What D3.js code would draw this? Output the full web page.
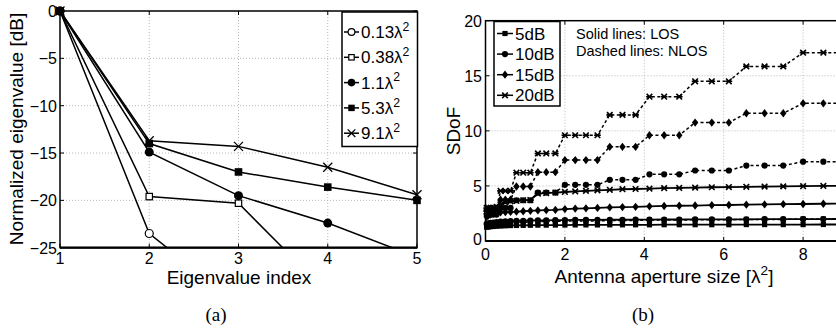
<!DOCTYPE html>
<html><head><meta charset="utf-8">
<script src="https://cdn.jsdelivr.net/npm/d3@7"></script>
<style>
body{margin:0;background:#fff}
svg{display:block}
text{font-family:"Liberation Sans",Arial,Helvetica,sans-serif;fill:#000}
</style>
</head><body>
<svg id="c" width="836" height="332"></svg>
<script>
// ---------- Panel (a) data ----------
const eigIndex = [1, 2, 3, 4, 5];
const eigTicksY = [0, -5, -10, -15, -20, -25];
const eigLegend = ["0.13", "0.38", "1.1", "5.3", "9.1"];
const eig013 = [0, -23.5, -31.0];
const eig038 = [0, -19.6, -20.3, -29.8];
const eig11  = [0, -14.9, -19.5, -22.4, -26.0];
const eig53  = [0, -14.0, -17.0, -18.6, -20.0];
const eig91  = [0, -13.7, -14.3, -16.5, -19.4];
const eigMarkers = ["o", "s", "O", "S", "x"];

// ---------- Panel (b) data ----------
const aperture = [0.03,0.07,0.125,0.195,0.28,0.38,0.5,0.63,0.78,0.95,1.13,1.32,1.53,1.76,2.0,2.26,2.53,2.82,3.13,3.45,3.78,4.13,4.5,4.88,5.28,5.7,6.13,6.57,7.03,7.5,8.0,8.51,9.03,9.57];
const los5   = [1.25,1.28,1.3,1.32,1.34,1.36,1.38,1.4,1.41,1.42,1.43,1.44,1.44,1.45,1.45,1.46,1.46,1.46,1.47,1.47,1.47,1.47,1.48,1.48,1.48,1.48,1.48,1.49,1.49,1.49,1.49,1.5,1.5,1.5];
const los10  = [1.55,1.6,1.65,1.68,1.72,1.75,1.78,1.8,1.82,1.84,1.86,1.87,1.88,1.89,1.9,1.91,1.91,1.92,1.93,1.93,1.94,1.94,1.95,1.95,1.96,1.96,1.97,1.97,1.98,1.98,1.99,1.99,2.0,2.0];
const los15  = [2.2,2.3,2.4,2.5,2.55,2.6,2.62,2.64,2.66,2.7,2.74,2.78,2.8,2.82,2.9,2.94,2.97,3.0,3.05,3.08,3.1,3.15,3.18,3.2,3.22,3.25,3.27,3.3,3.32,3.34,3.36,3.38,3.4,3.42];
const los20  = [2.7,2.8,2.9,3.0,3.1,3.3,3.5,3.6,3.65,3.7,3.72,4.3,4.35,4.4,4.45,4.5,4.55,4.6,4.65,4.7,4.72,4.75,4.8,4.82,4.85,4.88,4.9,4.92,4.94,4.96,4.98,5.0,5.0,5.0];
const nlos5  = [1.45,1.45,1.45,1.45,1.45,1.6,1.6,1.6,1.7,1.7,1.7,1.78,1.78,1.78,1.82,1.82,1.82,1.82,1.86,1.86,1.86,1.9,1.9,1.9,1.93,1.93,1.93,1.96,1.96,1.96,2.0,2.0,2.0,2.0];
const nlos10 = [2.4,2.4,2.4,2.4,2.4,3.0,3.0,3.0,3.7,3.7,3.7,4.4,4.4,4.4,5.1,5.1,5.1,5.1,5.55,5.55,5.55,6.05,6.05,6.05,6.4,6.4,6.4,6.85,6.85,6.85,7.2,7.2,7.2,7.2];
const nlos15 = [2.8,2.8,2.8,2.8,2.8,3.75,3.75,3.75,4.95,4.95,4.95,6.25,6.25,6.25,7.35,7.35,7.35,7.35,8.55,8.55,8.55,9.6,9.6,9.6,10.75,10.75,10.75,11.6,11.6,11.6,12.5,12.5,12.5,12.5];
const nlos20 = [3.0,3.0,3.0,3.0,3.0,4.55,4.55,4.55,6.2,6.2,6.2,7.95,7.95,7.95,9.6,9.6,9.6,9.6,11.45,11.45,11.45,13.1,13.1,13.1,14.5,14.5,14.5,15.85,15.85,15.85,17.1,17.1,17.1,17.1];
const snrLegend = ["5dB", "10dB", "15dB", "20dB"];
const snrMarkers = ["S", "O", "d", "*"];
const xTicksB = [0, 2, 4, 6, 8];
const yTicksB = [0, 5, 10, 15, 20];

const svg = d3.select("#c");

function marker(g, type, x, y, s) {
  const k = "#000";
  if (type === "o") g.append("circle").attr("cx", x).attr("cy", y).attr("r", s).attr("fill", "#fff").attr("stroke", k).attr("stroke-width", 1.2);
  else if (type === "O") g.append("circle").attr("cx", x).attr("cy", y).attr("r", s).attr("fill", k);
  else if (type === "s") g.append("rect").attr("x", x - s).attr("y", y - s).attr("width", 2 * s).attr("height", 2 * s).attr("fill", "#fff").attr("stroke", k).attr("stroke-width", 1.2);
  else if (type === "S") g.append("rect").attr("x", x - s).attr("y", y - s).attr("width", 2 * s).attr("height", 2 * s).attr("fill", k);
  else if (type === "d") g.append("path").attr("d", `M${x},${y - s * 1.3}L${x + s},${y}L${x},${y + s * 1.3}L${x - s},${y}Z`).attr("fill", k);
  else if (type === "x") g.append("path").attr("d", `M${x - s},${y - s}L${x + s},${y + s}M${x - s},${y + s}L${x + s},${y - s}`).attr("stroke", k).attr("stroke-width", 1.3);
  else if (type === "*") g.append("path").attr("d", `M${x - s},${y - s}L${x + s},${y + s}M${x - s},${y + s}L${x + s},${y - s}M${x - s * 1.2},${y}L${x + s * 1.2},${y}`).attr("stroke", k).attr("stroke-width", 1.6);
}

function grid(g, xs, ys, xt, yt, x0, x1, y0, y1) {
  xt.forEach(t => g.append("line").attr("x1", xs(t)).attr("x2", xs(t)).attr("y1", y0).attr("y2", y1)
    .attr("stroke", "#b8b8b8").attr("stroke-width", 1).attr("stroke-dasharray", "1,2"));
  yt.forEach(t => g.append("line").attr("x1", x0).attr("x2", x1).attr("y1", ys(t)).attr("y2", ys(t))
    .attr("stroke", "#b8b8b8").attr("stroke-width", 1).attr("stroke-dasharray", "1,2"));
}

function supText(g, x, y, main, sup, size, anchor) {
  const t = g.append("text").attr("x", x).attr("y", y).attr("font-size", size).attr("text-anchor", anchor || "start");
  t.append("tspan").text(main);
  t.append("tspan").attr("font-size", size * 0.72).attr("dy", -size * 0.42).text(sup);
  return t;
}

// ================= Panel (a) =================
{
  const L = 60, R = 417, T = 11, B = 247.7;
  const x = d3.scaleLinear().domain([1, 5]).range([L, R]);
  const y = d3.scaleLinear().domain([-25, 0]).range([B, T]);
  const g = svg.append("g");
  svg.append("defs").append("clipPath").attr("id", "clipA").append("rect").attr("x", L).attr("y", T).attr("width", R - L).attr("height", B - T);
  grid(g, x, y, [2, 3, 4], [-5, -10, -15, -20], L, R, T, B);

  const series = [eig013, eig038, eig11, eig53, eig91];
  const line = d3.line().x((d, i) => x(eigIndex[i])).y(d => y(d));
  series.forEach(s => g.append("path").attr("d", line(s)).attr("fill", "none").attr("stroke", "#000").attr("stroke-width", 1.5).attr("clip-path", "url(#clipA)"));
  const msize = { o: 4, s: 3.2, O: 4.5, S: 3.8, x: 4.5 };
  series.forEach((s, si) => s.forEach((v, i) => { if (v >= -25) marker(g, eigMarkers[si], x(eigIndex[i]), y(v), msize[eigMarkers[si]]); }));

  g.append("rect").attr("x", L).attr("y", T).attr("width", R - L).attr("height", B - T).attr("fill", "none").attr("stroke", "#000").attr("stroke-width", 1.5);
  g.append("line").attr("x1", L).attr("x2", R).attr("y1", B).attr("y2", B).attr("stroke", "#000").attr("stroke-width", 2.2);
  eigIndex.forEach(t => {
    g.append("line").attr("x1", x(t)).attr("x2", x(t)).attr("y1", B).attr("y2", B - 4).attr("stroke", "#000");
    g.append("line").attr("x1", x(t)).attr("x2", x(t)).attr("y1", T).attr("y2", T + 4).attr("stroke", "#000");
    g.append("text").attr("x", x(t)).attr("y", 264).attr("text-anchor", "middle").attr("font-size", 16).text(t);
  });
  eigTicksY.forEach(t => {
    g.append("line").attr("x1", L).attr("x2", L + 4).attr("y1", y(t)).attr("y2", y(t)).attr("stroke", "#000");
    g.append("line").attr("x1", R).attr("x2", R - 4).attr("y1", y(t)).attr("y2", y(t)).attr("stroke", "#000");
    g.append("text").attr("x", 57).attr("y", y(t) + 6).attr("text-anchor", "end").attr("font-size", 16).text(t === 0 ? "0" : "\u2212" + Math.abs(t));
  });
  g.append("text").attr("x", 239).attr("y", 284).attr("text-anchor", "middle").attr("font-size", 19).text("Eigenvalue index");
  g.append("text").attr("transform", "translate(23,129) rotate(-90)").attr("text-anchor", "middle").attr("font-size", 19).text("Normalized eigenvalue [dB]");

  const lg = svg.append("g");
  lg.append("rect").attr("x", 342).attr("y", 12).attr("width", 75.5).attr("height", 134.5).attr("fill", "#fff").attr("stroke", "#000").attr("stroke-width", 1.5);
  eigLegend.forEach((lab, i) => {
    const cy = 32 + i * 25.3;
    lg.append("line").attr("x1", 344).attr("x2", 359).attr("y1", cy).attr("y2", cy).attr("stroke", "#000").attr("stroke-width", 1.5);
    marker(lg, eigMarkers[i], 351.5, cy, msize[eigMarkers[i]] * 0.85);
    supText(lg, 361, cy + 6, lab + "\u03bb", "2", 17);
  });

  svg.append("text").attr("x", 216).attr("y", 321).attr("text-anchor", "middle").attr("font-size", 19)
    .style("font-family", "'Liberation Serif','DejaVu Serif',serif").text("(a)");
}

// ================= Panel (b) =================
{
  const L = 485.5, T = 20.7, B = 241;
  const x = d3.scaleLinear().domain([0, 10]).range([L, L + 397]);
  const y = d3.scaleLinear().domain([0, 20]).range([B, T]);
  const R = x(10);
  const g = svg.append("g");
  grid(g, x, y, [2, 4, 6, 8], [5, 10, 15], L, R, T, B);

  const line = d3.line().x((d, i) => x(aperture[i])).y(d => y(d));
  const losSeries = [los5, los10, los15, los20];
  const nlosSeries = [nlos5, nlos10, nlos15, nlos20];
  const msize = { S: 2.6, O: 3.1, d: 3.2, "*": 2.8 };
  nlosSeries.forEach((s, si) => {
    g.append("path").attr("d", line(s)).attr("fill", "none").attr("stroke", "#000").attr("stroke-width", 1.5).attr("stroke-dasharray", "3,2.5");
    s.forEach((v, i) => marker(g, snrMarkers[si], x(aperture[i]), y(v), msize[snrMarkers[si]]));
  });
  losSeries.forEach((s, si) => {
    g.append("path").attr("d", line(s)).attr("fill", "none").attr("stroke", "#000").attr("stroke-width", 1.8);
    s.forEach((v, i) => marker(g, snrMarkers[si], x(aperture[i]), y(v), msize[snrMarkers[si]]));
  });

  g.append("rect").attr("x", L).attr("y", T).attr("width", R - L).attr("height", B - T).attr("fill", "none").attr("stroke", "#000").attr("stroke-width", 1.5);
  g.append("line").attr("x1", L).attr("x2", R).attr("y1", B).attr("y2", B).attr("stroke", "#000").attr("stroke-width", 2.2);
  xTicksB.forEach(t => {
    g.append("line").attr("x1", x(t)).attr("x2", x(t)).attr("y1", B).attr("y2", B - 4).attr("stroke", "#000");
    g.append("line").attr("x1", x(t)).attr("x2", x(t)).attr("y1", T).attr("y2", T + 4).attr("stroke", "#000");
    g.append("text").attr("x", x(t)).attr("y", 260).attr("text-anchor", "middle").attr("font-size", 16).text(t);
  });
  yTicksB.forEach(t => {
    g.append("line").attr("x1", L).attr("x2", L + 4).attr("y1", y(t)).attr("y2", y(t)).attr("stroke", "#000");
    g.append("text").attr("x", 482).attr("y", y(t) + (t === 0 ? 4 : 6)).attr("text-anchor", "end").attr("font-size", 16).text(t);
  });
  supText(g, 664, 283, "Antenna aperture size [\u03bb", "2", 19, "middle").append("tspan").attr("font-size", 19).attr("dy", 19 * 0.42).text("]");
  g.append("text").attr("transform", "translate(460,131) rotate(-90)").attr("text-anchor", "middle").attr("font-size", 19).text("SDoF");

  g.append("text").attr("x", 576).attr("y", 38.5).attr("font-size", 14.5).text("Solid lines: LOS");
  g.append("text").attr("x", 576).attr("y", 56).attr("font-size", 14.5).text("Dashed lines: NLOS");

  const lg = svg.append("g");
  lg.append("rect").attr("x", 494).attr("y", 21.5).attr("width", 66).attr("height", 84.5).attr("fill", "#fff").attr("stroke", "#000").attr("stroke-width", 1.5);
  snrLegend.forEach((lab, i) => {
    const cy = 33.5 + i * 20.6;
    lg.append("line").attr("x1", 497).attr("x2", 513).attr("y1", cy).attr("y2", cy).attr("stroke", "#000").attr("stroke-width", 1.5);
    marker(lg, snrMarkers[i], 505, cy, msize[snrMarkers[i]]);
    lg.append("text").attr("x", 515).attr("y", cy + 6).attr("font-size", 17).text(lab);
  });

  svg.append("text").attr("x", 643).attr("y", 321).attr("text-anchor", "middle").attr("font-size", 19)
    .style("font-family", "'Liberation Serif','DejaVu Serif',serif").text("(b)");
}
</script>
</body></html>
